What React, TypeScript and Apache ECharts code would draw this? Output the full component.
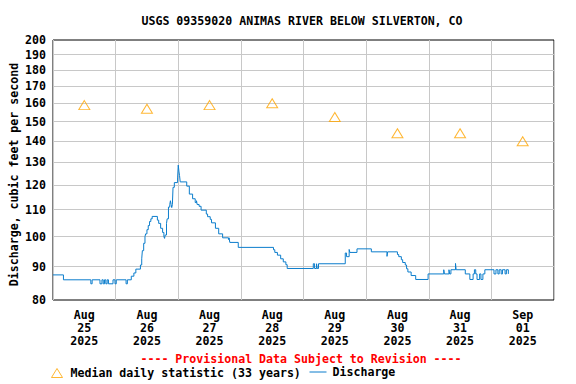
import React, { useEffect, useRef } from 'react';
import * as echarts from 'echarts';

const TITLE = 'USGS 09359020 ANIMAS RIVER BELOW SILVERTON, CO';
const Y_NAME = 'Discharge, cubic feet per second';
const PROVISIONAL = '---- Provisional Data Subject to Revision ----';
const MEDIAN_NAME = 'Median daily statistic (33 years)';
const DISCHARGE_NAME = 'Discharge';

const dayLabels = [
  'Aug 25 2025',
  'Aug 26 2025',
  'Aug 27 2025',
  'Aug 28 2025',
  'Aug 29 2025',
  'Aug 30 2025',
  'Aug 31 2025',
  'Sep 01 2025',
];
const medianValues = [159, 157, 159, 160, 152.5, 144, 144, 140];
const yTicks = [80, 90, 100, 110, 120, 130, 140, 150, 160, 170, 180, 190, 200];
const X_MIN = '2025-08-25 00:00';
const X_MAX = '2025-09-02 00:00';

const discharge: [string, number][] = [
  ['2025-08-25 00:00', 87.4],
  ['2025-08-25 04:00', 85.9],
  ['2025-08-25 14:30', 84.7],
  ['2025-08-25 15:00', 85.9],
  ['2025-08-25 18:00', 84.7],
  ['2025-08-25 18:45', 85.9],
  ['2025-08-25 19:15', 84.7],
  ['2025-08-25 19:45', 85.9],
  ['2025-08-25 20:15', 84.7],
  ['2025-08-25 20:45', 85.9],
  ['2025-08-25 21:15', 84.7],
  ['2025-08-25 23:00', 85.9],
  ['2025-08-25 23:45', 84.7],
  ['2025-08-26 00:15', 85.9],
  ['2025-08-26 04:00', 84.7],
  ['2025-08-26 04:30', 85.9],
  ['2025-08-26 06:00', 87.0],
  ['2025-08-26 07:00', 88.0],
  ['2025-08-26 07:45', 89.2],
  ['2025-08-26 09:30', 90.5],
  ['2025-08-26 10:00', 92.5],
  ['2025-08-26 10:15', 95.2],
  ['2025-08-26 10:45', 97.7],
  ['2025-08-26 11:15', 100.0],
  ['2025-08-26 11:30', 101.0],
  ['2025-08-26 12:00', 102.5],
  ['2025-08-26 12:30', 104.0],
  ['2025-08-26 13:00', 105.5],
  ['2025-08-26 13:30', 106.5],
  ['2025-08-26 14:00', 107.4],
  ['2025-08-26 16:00', 106.0],
  ['2025-08-26 16:30', 104.8],
  ['2025-08-26 17:15', 103.0],
  ['2025-08-26 18:00', 101.5],
  ['2025-08-26 18:30', 100.0],
  ['2025-08-26 18:45', 99.4],
  ['2025-08-26 19:00', 100.6],
  ['2025-08-26 19:30', 104.8],
  ['2025-08-26 19:45', 106.5],
  ['2025-08-26 20:15', 111.0],
  ['2025-08-26 20:45', 112.0],
  ['2025-08-26 21:00', 113.5],
  ['2025-08-26 21:15', 112.0],
  ['2025-08-26 21:30', 110.8],
  ['2025-08-26 21:45', 112.0],
  ['2025-08-26 22:00', 119.0],
  ['2025-08-26 22:30', 121.0],
  ['2025-08-26 23:45', 123.0],
  ['2025-08-27 00:00', 128.7],
  ['2025-08-27 00:15', 126.0],
  ['2025-08-27 00:30', 124.0],
  ['2025-08-27 00:45', 121.3],
  ['2025-08-27 03:15', 119.5],
  ['2025-08-27 04:15', 116.2],
  ['2025-08-27 05:30', 114.3],
  ['2025-08-27 06:30', 112.8],
  ['2025-08-27 07:00', 113.5],
  ['2025-08-27 07:15', 112.0],
  ['2025-08-27 08:00', 111.3],
  ['2025-08-27 08:45', 109.8],
  ['2025-08-27 10:45', 108.3],
  ['2025-08-27 11:15', 107.3],
  ['2025-08-27 12:15', 106.3],
  ['2025-08-27 12:45', 105.0],
  ['2025-08-27 14:15', 103.0],
  ['2025-08-27 15:30', 101.0],
  ['2025-08-27 17:00', 99.6],
  ['2025-08-27 19:15', 99.0],
  ['2025-08-27 19:30', 99.6],
  ['2025-08-27 19:45', 98.0],
  ['2025-08-27 23:00', 96.3],
  ['2025-08-28 12:30', 95.5],
  ['2025-08-28 13:00', 94.6],
  ['2025-08-28 14:00', 93.7],
  ['2025-08-28 15:15', 92.5],
  ['2025-08-28 16:15', 91.5],
  ['2025-08-28 17:15', 90.6],
  ['2025-08-28 17:45', 89.4],
  ['2025-08-29 03:45', 90.9],
  ['2025-08-29 04:15', 89.4],
  ['2025-08-29 05:00', 90.9],
  ['2025-08-29 05:15', 89.4],
  ['2025-08-29 05:45', 90.9],
  ['2025-08-29 16:00', 94.4],
  ['2025-08-29 16:30', 93.2],
  ['2025-08-29 17:30', 95.6],
  ['2025-08-29 17:45', 94.6],
  ['2025-08-29 20:30', 95.8],
  ['2025-08-30 02:00', 94.8],
  ['2025-08-30 08:00', 93.3],
  ['2025-08-30 08:15', 94.8],
  ['2025-08-30 12:00', 93.9],
  ['2025-08-30 12:30', 93.2],
  ['2025-08-30 13:30', 92.2],
  ['2025-08-30 14:00', 91.3],
  ['2025-08-30 15:00', 90.5],
  ['2025-08-30 15:30', 89.3],
  ['2025-08-30 16:00', 88.3],
  ['2025-08-30 17:15', 87.2],
  ['2025-08-30 19:00', 86.0],
  ['2025-08-30 23:45', 87.7],
  ['2025-08-31 05:45', 89.0],
  ['2025-08-31 06:00', 87.7],
  ['2025-08-31 07:45', 89.0],
  ['2025-08-31 08:00', 87.7],
  ['2025-08-31 08:30', 89.0],
  ['2025-08-31 10:15', 91.0],
  ['2025-08-31 10:30', 89.0],
  ['2025-08-31 14:00', 87.7],
  ['2025-08-31 15:45', 86.0],
  ['2025-08-31 17:00', 87.7],
  ['2025-08-31 17:30', 89.0],
  ['2025-08-31 18:00', 87.7],
  ['2025-08-31 18:30', 86.0],
  ['2025-08-31 19:30', 87.7],
  ['2025-08-31 20:00', 86.0],
  ['2025-08-31 20:45', 87.7],
  ['2025-08-31 21:30', 89.0],
  ['2025-09-01 01:00', 87.7],
  ['2025-09-01 01:45', 89.0],
  ['2025-09-01 02:30', 87.7],
  ['2025-09-01 03:00', 89.0],
  ['2025-09-01 03:45', 87.7],
  ['2025-09-01 04:15', 89.0],
  ['2025-09-01 05:15', 87.7],
  ['2025-09-01 05:45', 89.0],
  ['2025-09-01 06:30', 87.7],
];

const FONT = "'DejaVu Sans Mono', 'Liberation Mono', monospace";
const BLUE = '#0b7dcc';
const ORANGE = '#ffa500';
const GRID_GRAY = '#c8c8c8';
const CLEAR = 'rgba(0,0,0,0)';
const textBase = {
  fontFamily: FONT,
  fontWeight: 'bold' as const,
  fontSize: 11.6,
  color: '#000',
};

export default function App() {
  const ref = useRef<HTMLDivElement>(null);

  useEffect(() => {
    document.body.style.margin = '0';
    if (!ref.current) return;
    const chart = echarts.init(ref.current, null, { renderer: 'svg' });
    const option: any = {
      animation: false,
      backgroundColor: '#fff',
      title: [
        {
          text: TITLE,
          left: 302,
          top: 15,
          textAlign: 'center',
          padding: 0,
          textStyle: { ...textBase },
        },
        {
          text: PROVISIONAL,
          left: 301,
          top: 353,
          textAlign: 'center',
          padding: 0,
          textStyle: { ...textBase, color: '#ff0000' },
        },
      ],
      legend: [
        {
          data: [
            {
              name: MEDIAN_NAME,
              icon: 'triangle',
              itemStyle: { color: CLEAR, borderColor: ORANGE, borderWidth: 1 },
            },
          ],
          left: 51,
          top: 367,
          padding: 0,
          itemWidth: 11,
          itemHeight: 9,
          selectedMode: false,
          textStyle: { ...textBase, padding: [0, 0, 0, 3] },
        },
        {
          data: [
            {
              name: DISCHARGE_NAME,
              itemStyle: { color: CLEAR, borderColor: CLEAR, borderWidth: 0, opacity: 0 },
              lineStyle: { color: BLUE, width: 1, opacity: 1 },
            },
          ],
          left: 309,
          top: 366,
          padding: 0,
          itemWidth: 17,
          itemHeight: 12,
          selectedMode: false,
          textStyle: { ...textBase, padding: [0, 0, 0, 1] },
        },
      ],
      grid: {
        left: 51,
        right: 22,
        top: 40,
        bottom: 84,
        show: true,
        borderColor: '#000',
        borderWidth: 1,
        backgroundColor: CLEAR,
      },
      xAxis: [
        {
          type: 'category',
          data: dayLabels,
          boundaryGap: true,
          axisLine: { show: false },
          axisTick: { show: false },
          splitLine: { show: true, interval: 0, lineStyle: { color: GRID_GRAY, width: 1 } },
          axisLabel: {
            interval: 0,
            formatter: (v: string) => v.split(' ').join('\n'),
            ...textBase,
            lineHeight: 13,
            margin: 8,
          },
        },
        {
          type: 'time',
          min: X_MIN,
          max: X_MAX,
          show: false,
        },
      ],
      yAxis: {
        type: 'log',
        logBase: 10,
        min: 80,
        max: 200,
        axisLine: { show: false },
        axisTick: { show: false },
        axisLabel: { show: false },
        splitLine: { show: false },
        name: Y_NAME,
        nameLocation: 'middle',
        nameRotate: 90,
        nameGap: 33,
        nameTextStyle: { ...textBase, padding: [0, 9, 0, 0] },
      },
      series: [
        {
          name: 'gridlines',
          type: 'line',
          xAxisIndex: 1,
          data: [],
          silent: true,
          z: 1,
          markLine: {
            silent: true,
            z: 1,
            symbol: ['none', 'none'],
            animation: false,
            lineStyle: { color: GRID_GRAY, width: 1, type: 'solid' },
            label: {
              show: true,
              position: 'start',
              distance: 7,
              formatter: (p: any) => String(p.value),
              ...textBase,
            },
            emphasis: { disabled: true },
            data: yTicks.map((v) => ({
              yAxis: v,
              lineStyle:
                v === yTicks[0] || v === yTicks[yTicks.length - 1]
                  ? { color: CLEAR }
                  : { color: GRID_GRAY, width: 1, type: 'solid' },
            })),
          },
        },
        {
          name: MEDIAN_NAME,
          type: 'scatter',
          xAxisIndex: 0,
          data: medianValues,
          symbol: 'triangle',
          symbolSize: [11, 9],
          itemStyle: { color: CLEAR, borderColor: ORANGE, borderWidth: 1 },
          z: 4,
        },
        {
          name: DISCHARGE_NAME,
          type: 'line',
          xAxisIndex: 1,
          data: discharge,
          step: 'end',
          symbol: 'none',
          showSymbol: false,
          lineStyle: { color: BLUE, width: 1 },
          itemStyle: { color: BLUE },
          z: 3,
        },
      ],
    };
    chart.setOption(option);
    return () => chart.dispose();
  }, []);

  return <div ref={ref} style={{ width: 576, height: 384 }} />;
}
